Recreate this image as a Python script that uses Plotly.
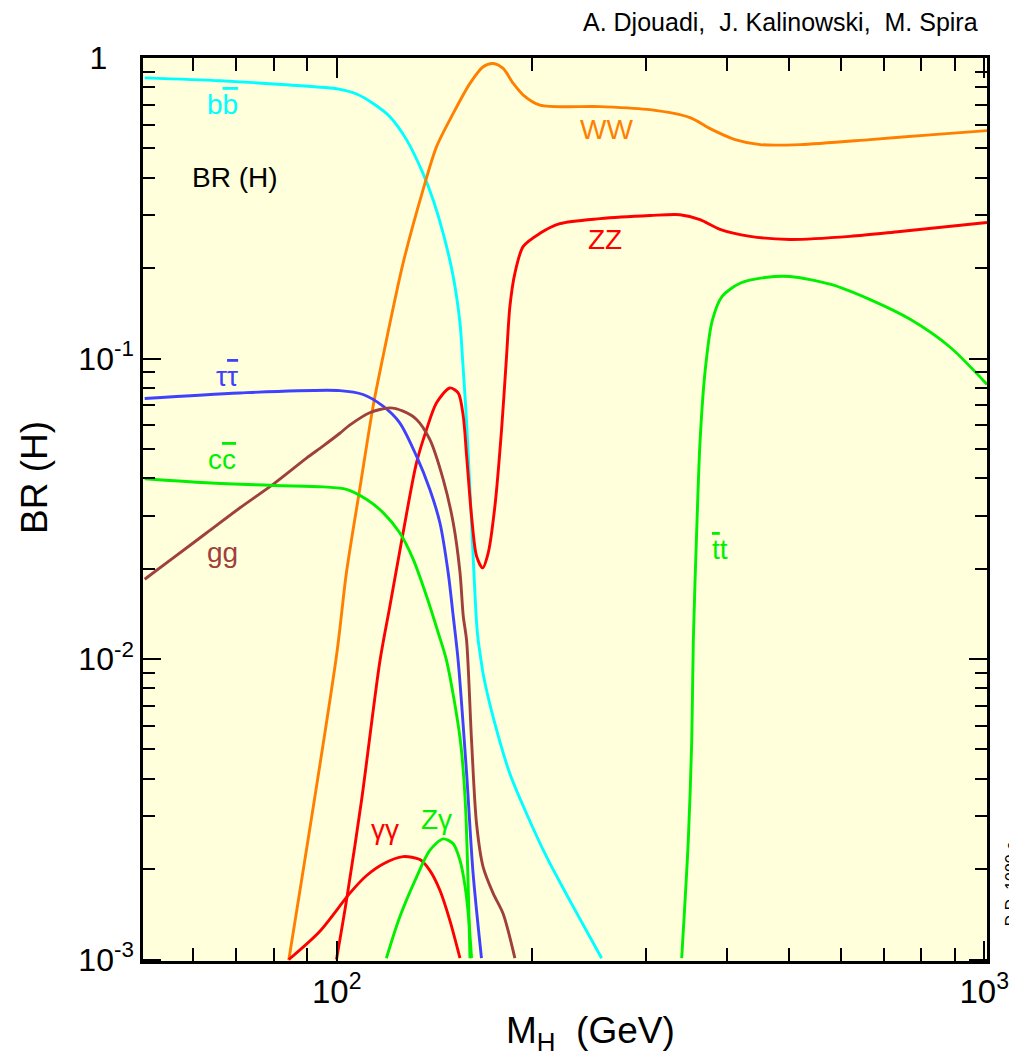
import plotly.graph_objects as go
import math

# ---------------- data ----------------
bb_m  = [50.5, 66.0, 84.6, 100.7, 107.3, 113.8, 120.8, 128.2, 135.9, 140.9, 146.0, 151.3, 155.0, 156.5, 158.7, 161.5, 164.4, 165.4, 167.1, 168.3, 174.4, 185.1, 196.5, 211.0, 229.1, 256.5]
bb_br = [0.859, 0.840, 0.813, 0.788, 0.759, 0.706, 0.638, 0.534, 0.413, 0.337, 0.261, 0.1875, 0.131, 0.0979, 0.0611, 0.0284, 0.01322, 0.0115, 0.00986, 0.00891, 0.0064, 0.00415, 0.00305, 0.00219, 0.00157, 0.00101]

ww_m  = [84.3, 99.9, 103.5, 108.5, 113.8, 117.9, 120.8, 126.6, 135.9, 142.6, 151.3, 160.6, 168.3, 174.4, 180.7, 187.3, 194.1, 206.0, 255.0, 304.7, 351.3, 377.2, 412.3, 450.7, 519.5, 666.5, 825.0, 1010.0]
ww_br = [0.000994, 0.01025, 0.0194, 0.0367, 0.0694, 0.1017, 0.131, 0.2077, 0.364, 0.507, 0.654, 0.823, 0.935, 0.959, 0.923, 0.823, 0.753, 0.697, 0.689, 0.673, 0.633, 0.582, 0.535, 0.515, 0.515, 0.535, 0.555, 0.573]

zz_m  = [99.9, 103.5, 109.2, 116.6, 120.8, 126.6, 132.8, 137.6, 142.6, 149.5, 154.0, 156.8, 158.7, 161.5, 164.4, 168.0, 171.4, 175.5, 179.7, 182.9, 185.1, 188.4, 194.1, 206.0, 221.1, 255.0, 304.7, 338.9, 364.0, 390.8, 434.9, 501.4, 620.9, 741.8, 1010.0]
zz_br = [0.001, 0.00157, 0.00338, 0.00986, 0.0150, 0.0263, 0.0450, 0.058, 0.0712, 0.0798, 0.0768, 0.0643, 0.0473, 0.0299, 0.0220, 0.0201, 0.0226, 0.0323, 0.058, 0.1017, 0.149, 0.192, 0.236, 0.261, 0.281, 0.292, 0.299, 0.301, 0.290, 0.269, 0.255, 0.249, 0.255, 0.2647, 0.2835]

tau_m  = [50.5, 70.8, 101.1, 109.8, 117.9, 125.1, 132.8, 139.2, 144.3, 148.6, 151.3, 154.0, 158.7, 162.4, 167.3]
tau_br = [0.0736, 0.0768, 0.0782, 0.0759, 0.0694, 0.0611, 0.0473, 0.0367, 0.0284, 0.0194, 0.0139, 0.00986, 0.00415, 0.00193, 0.00101]

gg_m  = [50.5, 55.9, 62.9, 70.8, 80.2, 89.8, 95.2, 101.1, 104.7, 112.4, 120.8, 126.6, 132.8, 139.2, 146.0, 151.3, 155.0, 156.8, 158.7, 161.5, 164.4, 168.3, 174.4, 180.7, 188.4]
gg_br = [0.01842, 0.0217, 0.02626, 0.0318, 0.0385, 0.0466, 0.0511, 0.0564, 0.0600, 0.0660, 0.0685, 0.0668, 0.0627, 0.0538, 0.0396, 0.0284, 0.0194, 0.0139, 0.0115, 0.00535, 0.00283, 0.00203, 0.00166, 0.00142, 0.00101]

cc_m  = [50.5, 62.9, 80.2, 95.2, 103.5, 111.1, 117.9, 125.1, 131.2, 137.6, 143.4, 147.8, 155.0, 157.9, 160.6]
cc_br = [0.0398, 0.0386, 0.0378, 0.0374, 0.0367, 0.0340, 0.0307, 0.0263, 0.0215, 0.0162, 0.01225, 0.00986, 0.00547, 0.00338, 0.00101]

gaga_m  = [84.3, 94.1, 104.7, 111.1, 117.9, 126.6, 134.4, 139.2, 144.3, 149.5, 155.0]
gaga_br = [0.001, 0.00124, 0.00166, 0.0019, 0.00208, 0.0022, 0.00215, 0.00198, 0.0017, 0.00135, 0.00101]

zga_m  = [119.3, 125.1, 132.8, 139.2, 146.0, 151.3, 155.0, 157.9, 159.8, 161.5]
zga_br = [0.00101, 0.001384, 0.00188, 0.002306, 0.00252, 0.002427, 0.002136, 0.00174, 0.001384, 0.00101]

tt_m  = [341.0, 349.1, 353.4, 355.4, 360.1, 364.0, 370.6, 379.9, 393.7, 419.7, 458.7, 501.4, 580.0, 666.5, 768.6, 886.0, 1010.0]
tt_br = [0.00101, 0.00249, 0.00535, 0.0115, 0.0288, 0.053, 0.0907, 0.133, 0.161, 0.178, 0.186, 0.1875, 0.1764, 0.157, 0.135, 0.109, 0.082]

x_tickvals = [100, 1000]
x_ticktext = ["10<sup>2</sup>", "10<sup>3</sup>"]
y_tickvals = [1e-3, 1e-2, 1e-1, 1]
y_ticktext = ["10<sup>-3</sup>", "10<sup>-2</sup>", "10<sup>-1</sup>", "1\u00a0\u00a0\u00a0"]

# ---------------- styling ----------------
FONT = "Liberation Sans, Arial, Helvetica, sans-serif"
C_CYAN = "#00FFFF"
C_ORANGE = "#FF8000"
C_RED = "#FF0000"
C_BLUE = "#4040FF"
C_GREEN = "#00F000"
C_BROWN = "#A0403C"
BG = "#FFFFDC"
LW = 2.9

fig = go.Figure()

def add(xs, ys, color):
    fig.add_trace(go.Scatter(x=xs, y=ys, mode="lines",
                             line=dict(color=color, width=LW, shape="spline", smoothing=0.8),
                             hoverinfo="skip", showlegend=False, cliponaxis=True))

add(bb_m, bb_br, C_CYAN)
add(ww_m, ww_br, C_ORANGE)
add(zz_m, zz_br, C_RED)
add(tau_m, tau_br, C_BLUE)
add(gg_m, gg_br, C_BROWN)
add(cc_m, cc_br, C_GREEN)
add(gaga_m, gaga_br, C_RED)
add(zga_m, zga_br, C_GREEN)
add(tt_m, tt_br, C_GREEN)

minor_x = [60, 70, 80, 90, 200, 300, 400, 500, 600, 700, 800, 900]
minor_y = []
for e in [-3, -2, -1]:
    for k in range(2, 10):
        minor_y.append(k * 10 ** e)

XMIN, XMAX = math.log10(50.2), math.log10(1010)
YMIN, YMAX = -3.005, 0.0

fig.update_xaxes(type="log", range=[XMIN, XMAX],
                 tickmode="array", tickvals=x_tickvals, ticktext=x_ticktext,
                 ticks="inside", ticklen=20, tickwidth=2, tickcolor="black",
                 minor=dict(tickmode="array", tickvals=minor_x, ticks="inside", ticklen=13, tickwidth=2, tickcolor="black", showgrid=False),
                 showline=True, linecolor="black", linewidth=2.5, mirror="allticks",
                 showgrid=False, zeroline=False,
                 tickfont=dict(family=FONT, size=33, color="black"))

fig.update_yaxes(type="log", range=[YMIN, YMAX],
                 tickmode="array", tickvals=y_tickvals, ticktext=y_ticktext,
                 ticks="inside", ticklen=18, tickwidth=2, tickcolor="black",
                 minor=dict(tickmode="array", tickvals=minor_y, ticks="inside", ticklen=12, tickwidth=2, tickcolor="black", showgrid=False),
                 showline=True, linecolor="black", linewidth=2.5, mirror="allticks",
                 showgrid=False, zeroline=False,
                 tickfont=dict(family=FONT, size=32, color="black"))

L = 28
def label(text, m, br, color, size=L):
    fig.add_annotation(x=math.log10(m), y=math.log10(br), text=text, showarrow=False,
                       font=dict(family=FONT, size=size, color=color), xanchor="center", yanchor="middle")

OV = "<span style='text-decoration:overline'>{}</span>"
label("b" + OV.format("b"), 10 ** 1.8238, 10 ** -0.1554, C_CYAN)
label("BR (H)", 10 ** 1.8424, 10 ** -0.3983, "black", 28)
label("WW", 10 ** 2.4173, 10 ** -0.2386, C_ORANGE)
label("ZZ", 10 ** 2.4142, 10 ** -0.6047, C_RED)
label("\u03c4" + OV.format("\u03c4"), 10 ** 1.83, 10 ** -1.0606, C_BLUE)
label("c" + OV.format("c"), 10 ** 1.8223, 10 ** -1.3368, C_GREEN)
label("gg", 10 ** 1.8238, 10 ** -1.6463, C_BROWN)
label(OV.format("t") + "t", 10 ** 2.592, 10 ** -1.6364, C_GREEN)
label("\u03b3\u03b3", 10 ** 2.0742, 10 ** -2.568, C_RED)
label("Z\u03b3", 10 ** 2.1546, 10 ** -2.535, C_GREEN)

# axis titles (placed like the reference, off-centre)
fig.add_annotation(xref="paper", yref="paper", x=-0.128, y=0.536, xanchor="center", yanchor="middle",
                   text="BR (H)", textangle=-90, showarrow=False,
                   font=dict(family=FONT, size=37, color="black"))
fig.add_annotation(xref="paper", yref="paper", x=0.530, y=-0.080, xanchor="center", yanchor="middle",
                   text="M<sub>H</sub>\u00a0\u00a0(GeV)", showarrow=False,
                   font=dict(family=FONT, size=37, color="black"))

fig.add_annotation(xref="paper", yref="paper", x=0.9917, y=1.0399, xanchor="right", yanchor="middle",
                   text="A. Djouadi,\u00a0\u00a0J. Kalinowski,\u00a0\u00a0M. Spira", showarrow=False,
                   font=dict(family=FONT, size=25, color="black"))
fig.add_annotation(xref="paper", yref="paper", x=1.0285, y=0.085, xanchor="center", yanchor="middle",
                   text="D.D. 1090 c", textangle=-90, showarrow=False,
                   font=dict(family=FONT, size=16, color="black"))

# page body has an 8px margin: shrink the figure so the plot area lands where the reference has it
fig.update_layout(width=1009, height=1050,
                  margin=dict(l=135, r=30, t=50, b=97, autoexpand=False),
                  paper_bgcolor="white", plot_bgcolor=BG,
                  showlegend=False)

fig.write_html("out.html")
